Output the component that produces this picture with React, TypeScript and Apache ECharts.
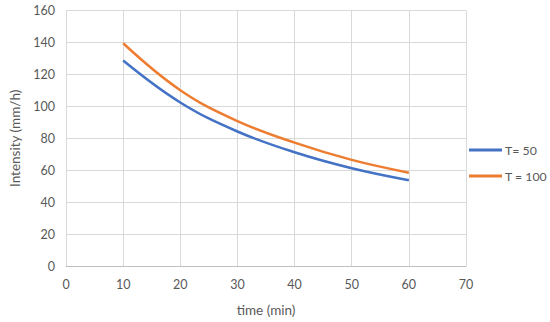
import React, { useEffect, useRef } from "react";
import * as echarts from "echarts";

const times = [10, 20, 30, 40, 50, 60];
const t50 = [128.8, 102.5, 84.3, 71.3, 61.3, 53.8];
const t100 = [139.6, 110.2, 90.8, 77.3, 66.5, 58.5];
const seriesNames = ["T= 50", "T = 100"];

const FONT = "Lato";
const TEXT = "#595959";

export default function App() {
  const ref = useRef<HTMLDivElement>(null);
  useEffect(() => {
    if (!ref.current) return;
    const chart = echarts.init(ref.current, undefined, { renderer: "svg" });
    chart.setOption({
      animation: false,
      backgroundColor: "#ffffff",
      textStyle: { fontFamily: FONT },
      grid: { left: 60.5, right: 84, top: 10.7, bottom: 55.3, containLabel: false },
      legend: {
        orient: "vertical",
        left: 469,
        top: 144,
        icon: "rect",
        itemWidth: 33,
        itemHeight: 3,
        itemGap: 14,
        padding: 0,
        textStyle: { color: TEXT, fontSize: 12.3, fontFamily: FONT, padding: [0, 0, 0, -2] },
        data: seriesNames,
      },
      xAxis: {
        type: "value",
        min: 0,
        max: 70,
        interval: 10,
        name: "time (min)",
        nameLocation: "middle",
        nameGap: 37,
        nameTextStyle: { color: TEXT, fontSize: 13.5, fontFamily: FONT },
        axisLine: { show: true, lineStyle: { color: "#BFBFBF", width: 1 } },
        axisTick: { show: false },
        axisLabel: { color: TEXT, fontSize: 12.5, margin: 12, fontFamily: FONT },
        splitLine: { show: true, lineStyle: { color: "#D9D9D9", width: 1 } },
      },
      yAxis: {
        type: "value",
        min: 0,
        max: 160,
        interval: 20,
        name: "Intensity (mm/h)",
        nameLocation: "middle",
        nameGap: 44,
        nameTextStyle: { color: TEXT, fontSize: 13.5, fontFamily: FONT },
        axisLine: { show: true, lineStyle: { color: "#D9D9D9", width: 1 } },
        axisTick: { show: false },
        axisLabel: { color: TEXT, fontSize: 12.5, margin: 11, fontFamily: FONT },
        splitLine: { show: true, lineStyle: { color: "#D9D9D9", width: 1 } },
      },
      series: [
        {
          name: seriesNames[0],
          type: "line",
          smooth: 0.4,
          symbol: "none",
          data: times.map((t, i) => [t, t50[i]]),
          lineStyle: { color: "#4472C4", width: 2.5 },
          itemStyle: { color: "#4472C4" },
        },
        {
          name: seriesNames[1],
          type: "line",
          smooth: 0.4,
          symbol: "none",
          data: times.map((t, i) => [t, t100[i]]),
          lineStyle: { color: "#ED7D31", width: 2.5 },
          itemStyle: { color: "#ED7D31" },
        },
      ],
    });
    return () => chart.dispose();
  }, []);
  return (
    <div
      ref={ref}
      style={{ width: 550, height: 322, position: "absolute", left: 0, top: 0 }}
    />
  );
}
